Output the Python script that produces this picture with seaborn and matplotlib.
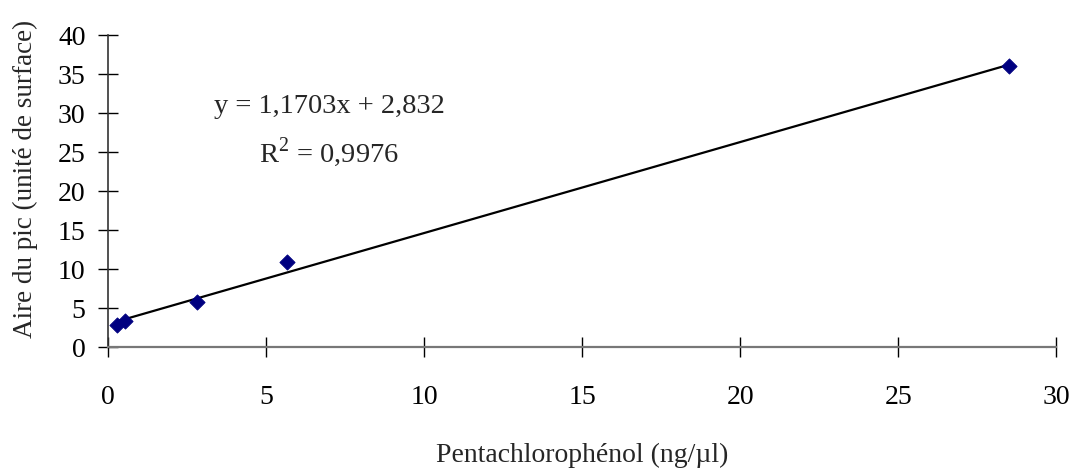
import matplotlib
matplotlib.use("Agg")
import matplotlib.pyplot as plt
import seaborn as sns
import pandas as pd

concentration = [0.28, 0.55, 2.83, 5.67, 28.5]
aire = [2.8, 3.4, 5.8, 10.9, 36.0]
x_ticks = [0, 5, 10, 15, 20, 25, 30]
y_ticks = [0, 5, 10, 15, 20, 25, 30, 35, 40]
equation = "y = 1,1703x + 2,832"
r2_text = "R$^2$ = 0,9976"
x_label = "Pentachlorophénol (ng/µl)"
y_label = "Aire du pic (unité de surface)"

df = pd.DataFrame({"c": concentration, "a": aire})

sns.set_style("white")
plt.rcParams["font.family"] = ["Liberation Serif", "DejaVu Serif"]
plt.rcParams["mathtext.fontset"] = "custom"
plt.rcParams["mathtext.rm"] = "Liberation Serif"

fig = plt.figure(figsize=(10.79, 4.69), dpi=100)
ax = fig.add_axes([0.100, 0.260, 0.879, 0.665])

sns.regplot(data=df, x="c", y="a", ax=ax, ci=None, scatter=False, truncate=True,
            line_kws={"color": "black", "lw": 1.6})
sns.scatterplot(data=df, x="c", y="a", ax=ax, marker="D", s=60, color="#000080",
                edgecolor="#000080", zorder=3)

ax.set_xlim(0, 30)
ax.set_ylim(0, 40)
ax.set_xticks(x_ticks)
ax.set_yticks(y_ticks)
ax.tick_params(bottom=True, left=True, direction="inout", length=14, width=1,
               colors="black", labelsize=20)
ax.tick_params(axis="x", pad=20)
ax.tick_params(axis="y", pad=9)
for s in ["top", "right"]:
    ax.spines[s].set_visible(False)
ax.spines["left"].set_color("#333333")
ax.spines["bottom"].set_color("#777777")
ax.spines["left"].set_linewidth(1.2)
ax.spines["bottom"].set_linewidth(1.6)

ax.set_xlabel(x_label, fontsize=20, labelpad=24)
ax.set_ylabel(y_label, fontsize=19.5, labelpad=13)
ax.yaxis.set_label_coords(-0.074, 0.54)

ax.text(7.0, 30.9, equation, ha="center", va="center", fontsize=20.5)
ax.text(7.0, 25.0, r2_text, ha="center", va="center", fontsize=20.5)

fig.savefig("out.png", dpi=100)
